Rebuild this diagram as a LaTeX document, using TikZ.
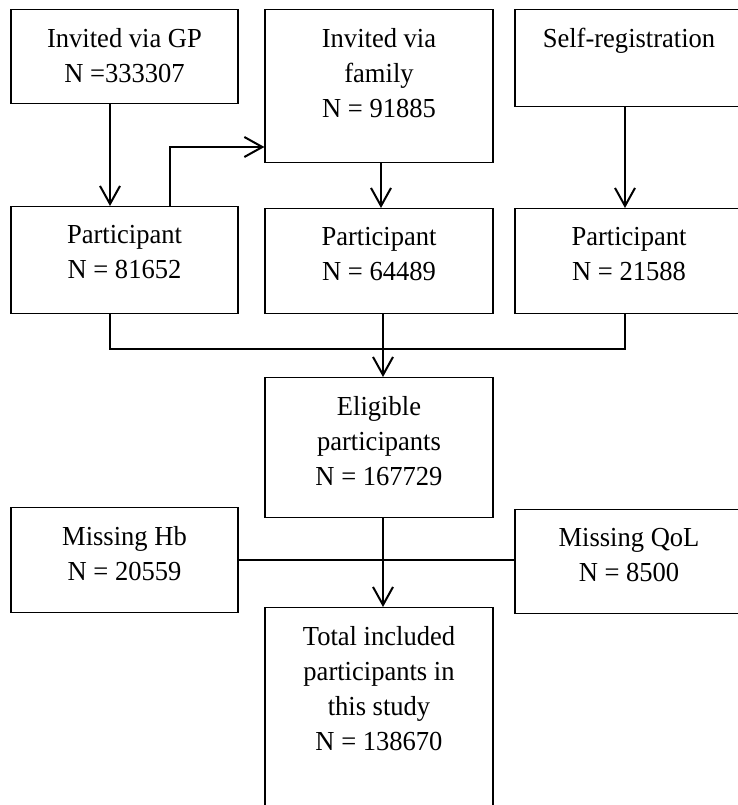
\documentclass[tikz,border=0pt]{standalone}
\usepackage{fontspec}
\setmainfont{Liberation Serif}[FakeStretch=0.965]
\usetikzlibrary{arrows.meta}

\begin{document}
\begin{tikzpicture}[x=1pt,y=-1pt,
    box/.style={draw, line width=1.2pt, anchor=north, minimum width=228pt, inner sep=0pt},
    boxtext/.style={anchor=north, align=center, inner sep=0pt, yshift=-19pt, font=\fontsize{27.5}{35}\selectfont},
    arrow/.style={-{Straight Barb[length=18pt,width=20pt]}, line width=2pt},
    link/.style={line width=1.3pt}]
        \useasboundingbox (0,0) rectangle (738,805);
        \clip (0,0) rectangle (738,805);

        % Recruitment routes
        \node[box, minimum width=227pt, minimum height=94pt, label={[boxtext]north:{Invited via GP\\N =333307}}] (gp) at (124.5,9) {};
        \node[box, minimum height=153pt, label={[boxtext]north:{Invited via\\family\\N = 91885}}] (fam) at (379,9) {};
        \node[box, minimum height=97pt, label={[boxtext]north:{Self-registration}}] (self) at (629,9) {};

        % Participants per route
        \node[box, minimum width=227pt, minimum height=107pt, label={[boxtext]north:{Participant\\N = 81652}}] (p1) at (124.5,206) {};
        \node[box, minimum height=105pt, label={[boxtext]north:{Participant\\N = 64489}}] (p2) at (379,208) {};
        \node[box, minimum height=105pt, label={[boxtext]north:{Participant\\N = 21588}}] (p3) at (629,208) {};

        % Eligible and exclusions
        \node[box, minimum height=140pt, label={[boxtext]north:{Eligible\\participants\\N = 167729}}] (elig) at (379,377) {};
        \node[box, minimum width=227pt, minimum height=105pt, label={[boxtext]north:{Missing Hb\\N = 20559}}] (hb) at (124.5,507) {};
        \node[box, minimum height=104pt, label={[boxtext]north:{Missing QoL\\N = 8500}}] (qol) at (629,509) {};

        % Final sample
        \node[box, minimum height=230pt, label={[boxtext]north:{Total included\\participants in\\this study\\N = 138670}}] (total) at (379,607) {};

        % Arrows from routes to participants
        \coordinate (bend) at (170,147);
        \draw[arrow] ([xshift=-14.5pt]gp.south) -- ([xshift=-14.5pt]p1.north);
        \draw[arrow] ([xshift=45.5pt]p1.north) -- (bend) -- (bend -| fam.west);
        \draw[arrow] ([xshift=2pt]fam.south) -- ([xshift=2pt]p2.north);
        \draw[arrow] ([xshift=-4pt]self.south) -- ([xshift=-4pt]p3.north);

        % Merge into eligible participants
        \coordinate (merge) at (383,349);
        \draw[link] ([xshift=-14.5pt]p1.south) |- (merge) -| ([xshift=-4pt]p3.south);
        \draw[arrow] ([xshift=4pt]p2.south) -- ([xshift=4pt]elig.north);

        % Exclusions and final arrow
        \coordinate (excl) at (383,560);
        \draw[link] (excl -| hb.east) -- (excl -| qol.west);
        \draw[arrow] ([xshift=4pt]elig.south) -- ([xshift=4pt]total.north);

    \end{tikzpicture}
\end{document}
